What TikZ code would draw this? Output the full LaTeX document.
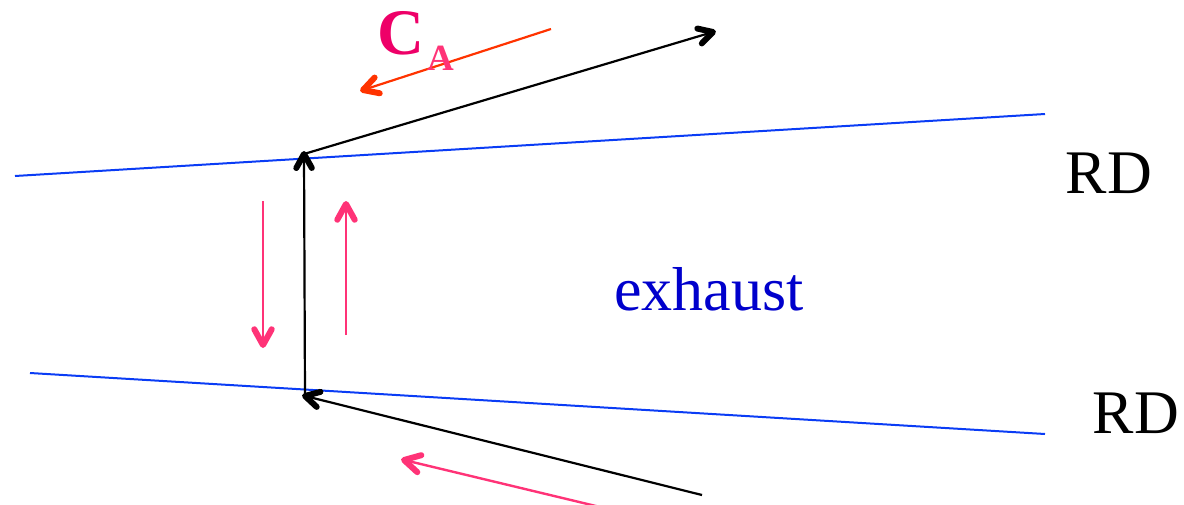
\documentclass[tikz,border=0pt]{standalone}
\usepackage{fontspec}
\setmainfont{Liberation Serif}
\usetikzlibrary{calc}
\definecolor{lineblue}{HTML}{0A3CF5}
\definecolor{txtblue}{HTML}{0000CC}
\definecolor{redor}{HTML}{FF3300}
\definecolor{pinkarr}{HTML}{FF3377}
\definecolor{cpink}{HTML}{EE0068}
\definecolor{apink}{HTML}{FF3377}
\tikzset{
  bound/.style={lineblue, line width=1pt},
  vel/.style={black, line width=1.1pt},
  pinkv/.style={pinkarr, line width=1.2pt},
  redv/.style={redor, line width=1.1pt},
  headv/.style={line width=3pt, line cap=round, line join=round},
  lbl/.style={inner sep=0pt, font=\fontsize{31pt}{33pt}\selectfont},
}
% #1 colour, #2 start, #3 tip, #4 barb length
\newcommand\myarrow[4]{%
  \draw[#1] (#2) -- (#3);
  \draw[#1, headv] ($(#3)!#4!29:(#2)$) -- (#3) -- ($(#3)!#4!-29:(#2)$);
}
\begin{document}
\begin{tikzpicture}[x=0.5pt,y=-0.5pt]
\useasboundingbox (0,0) rectangle (1184,504);
\clip (0,0) rectangle (1184,504);
% boundaries
\coordinate (u1) at (15,176);
\coordinate (u2) at (1045,114);
\coordinate (l1) at (30,373);
\coordinate (l2) at (1045,434);
\draw[bound] (u1) -- (u2);
\draw[bound] (l1) -- (l2);
% velocity vectors
\coordinate (top) at (304,154);
\coordinate (bot) at (305,396);
\coordinate (tr) at (713,32);
\coordinate (br) at (702,495);
\myarrow{vel}{br}{bot}{8pt}
\myarrow{vel}{bot}{top}{8pt}
\myarrow{vel}{top}{tr}{8pt}
% CA arrow
\coordinate (ca1) at (551,29);
\coordinate (ca2) at (363,90);
\myarrow{redv}{ca1}{ca2}{8.5pt}
\node[lbl, text=cpink, font=\fontsize{32.5pt}{34pt}\selectfont\bfseries] (C) at (401,33) {C};
\node[lbl, text=apink, font=\fontsize{18.5pt}{20pt}\selectfont\bfseries] (A) at (441,58) {A};
% pink arrows
\coordinate (p1s) at (263,201);
\coordinate (p1e) at (263,345);
\coordinate (p2s) at (346,335);
\coordinate (p2e) at (346,204);
\coordinate (p3s) at (600,507);
\coordinate (p3e) at (404,460);
\myarrow{pinkv}{p1s}{p1e}{9pt}
\myarrow{pinkv}{p2s}{p2e}{9pt}
\myarrow{pinkv}{p3s}{p3e}{9pt}
% labels
\node[lbl, text=txtblue] (ex) at (709,289) {exhaust};
\node[lbl] (rd1) at (1109,173) {RD};
\node[lbl] (rd2) at (1136,413) {RD};
\end{tikzpicture}
\end{document}
